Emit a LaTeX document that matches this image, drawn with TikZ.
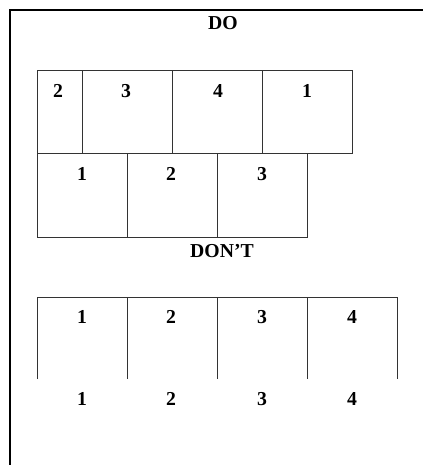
\documentclass[tikz,border=0pt]{standalone}
\usepackage{fontspec}
\setmainfont{Liberation Serif}

\tikzset{every picture/.style={line width=0.75pt}}
\tikzset{cellnum/.style={anchor=base,inner sep=0pt,font=\fontsize{14.8}{17}\selectfont\bfseries}}
\tikzset{cellline/.style={draw=black!80,line width=0.7pt}}

\begin{document}
\begin{tikzpicture}[x=0.75pt,y=0.75pt,yscale=-1,xscale=1]
\useasboundingbox (0,0) rectangle (423,465);

%Frame
\draw [line width=1.5pt]  (10,465) -- (10,10) -- (423,10) ;

%Text
\node [cellnum] (do) at (223,29.5) {DO};

%Shape: Rectangle, upper row
\draw [cellline]  (37,70) rectangle (352,153) ;
%Straight Lines
\draw [cellline]  (82,70) -- (82,153) ;
\draw [cellline]  (172,70) -- (172,153) ;
\draw [cellline]  (262,70) -- (262,153) ;

\node [cellnum] (ua) at (58,97) {2};
\node [cellnum] (ub) at (126,97) {3};
\node [cellnum] (uc) at (218,97) {4};
\node [cellnum] (ud) at (307,97) {1};

%Shape: Rectangle, lower row
\draw [cellline]  (37,153) rectangle (307,237) ;
%Straight Lines
\draw [cellline]  (127,153) -- (127,237) ;
\draw [cellline]  (217,153) -- (217,237) ;

\node [cellnum] (la) at (82,180) {1};
\node [cellnum] (lb) at (171,180) {2};
\node [cellnum] (lc) at (262,180) {3};

%Text
\node [cellnum] (dont) at (222,257) {DON'T};

%Open row
\draw [cellline]  (37,379) -- (37,297) -- (397,297) -- (397,379) ;
\draw [cellline]  (127,297) -- (127,379) ;
\draw [cellline]  (217,297) -- (217,379) ;
\draw [cellline]  (307,297) -- (307,379) ;

\node [cellnum] (oa) at (82,323.5) {1};
\node [cellnum] (ob) at (171,323.5) {2};
\node [cellnum] (oc) at (262,323.5) {3};
\node [cellnum] (od) at (352,323.5) {4};

\node [cellnum] (ba) at (82,405) {1};
\node [cellnum] (bb) at (171,405) {2};
\node [cellnum] (bc) at (262,405) {3};
\node [cellnum] (bd) at (352,405) {4};

\end{tikzpicture}
\end{document}
